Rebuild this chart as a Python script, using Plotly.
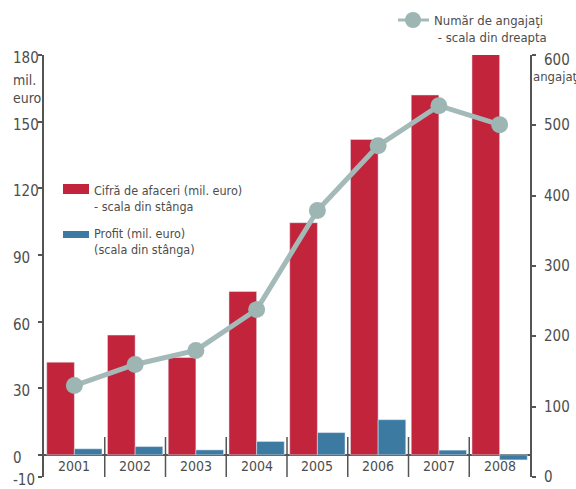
import plotly.graph_objects as go

years = ["2001", "2002", "2003", "2004", "2005", "2006", "2007", "2008"]
turnover = [41.7, 53.9, 43.8, 73.5, 104.5, 142.0, 162.0, 181.0]
profit = [2.7, 3.7, 2.2, 6.0, 10.0, 15.8, 2.1, -2.3]
employees = [130, 160, 180, 238, 379, 471, 528, 501]

left_ticks = [-10, 0, 30, 60, 90, 120, 150, 180]
right_ticks = [0, 100, 200, 300, 400, 500, 600]

RED = "#C2243B"
BLUE = "#3C7AA2"
LINEC = "#A3BAB8"
AXC = "#555555"
TXT = "#4d4d4d"
FONT = "DejaVu Sans Condensed, Liberation Sans Narrow, sans-serif"

W, H = 576, 489
L, R, T, B = 44, 46, 55, 12
PW, PH = W - L - R, H - T - B


def pxx(x):
    return (x - L) / PW


def pxy(y):
    return (H - B - y) / PH


fig = go.Figure()
fig.add_trace(go.Bar(x=years, y=turnover, marker_color=RED, name="Cifră de afaceri",
                     yaxis="y", showlegend=False))
fig.add_trace(go.Bar(x=years, y=profit, marker_color=BLUE, name="Profit",
                     yaxis="y", showlegend=False))
fig.add_trace(go.Scatter(x=years, y=employees, yaxis="y2", mode="lines+markers",
                         line=dict(color=LINEC, width=5),
                         marker=dict(color="#9DB5B3", size=17),
                         showlegend=False, name="Număr de angajaţi"))

annotations = []
# left tick labels (left aligned)
for v in left_ticks:
    annotations.append(dict(x=pxx(11), y=v, xref="paper", yref="y", text=str(v),
                            xanchor="left", yanchor="middle", yshift=-3, showarrow=False,
                            font=dict(family=FONT, size=15, color=TXT)))
# right tick labels
for v in right_ticks:
    annotations.append(dict(x=pxx(542), y=v, xref="paper", yref="y2", text=str(v),
                            xanchor="left", yanchor="middle",
                            yshift=(-5 if v == 600 else 0), showarrow=False,
                            font=dict(family=FONT, size=15, color=TXT)))
# year labels
for i, yr in enumerate(years):
    annotations.append(dict(x=i, y=-5, xref="x", yref="y", text=yr, xanchor="center",
                            yanchor="middle", showarrow=False, yshift=0,
                            font=dict(family=FONT, size=14, color=TXT)))
# unit labels
annotations.append(dict(x=pxx(11), y=pxy(89), xref="paper", yref="paper",
                        text="mil.<br>euro", xanchor="left", yanchor="middle", align="left",
                        showarrow=False, font=dict(family=FONT, size=14, color=TXT)))
annotations.append(dict(x=pxx(531), y=pxy(76), xref="paper", yref="paper",
                        text="angajaţi", xanchor="left", yanchor="middle", align="left",
                        showarrow=False, font=dict(family=FONT, size=13, color=TXT)))
# legend texts
annotations.append(dict(x=pxx(92), y=pxy(198), xref="paper", yref="paper",
                        text="Cifră de afaceri (mil. euro)<br>- scala din stânga",
                        xanchor="left", yanchor="middle", align="left", showarrow=False,
                        font=dict(family=FONT, size=12.5, color=TXT)))
annotations.append(dict(x=pxx(92), y=pxy(241), xref="paper", yref="paper",
                        text="Profit (mil. euro)<br>(scala din stânga)",
                        xanchor="left", yanchor="middle", align="left", showarrow=False,
                        font=dict(family=FONT, size=12.5, color=TXT)))
annotations.append(dict(x=pxx(432), y=pxy(29), xref="paper", yref="paper",
                        text="Număr de angajaţi<br> - scala din dreapta",
                        xanchor="left", yanchor="middle", align="left", showarrow=False,
                        font=dict(family=FONT, size=13, color=TXT)))

shapes = []
# category dividers
for i in range(len(years) - 1):
    shapes.append(dict(type="line", xref="x", yref="y", x0=i + 0.5, x1=i + 0.5,
                       y0=-10, y1=8, line=dict(color=AXC, width=1.5)))
# legend swatches
shapes.append(dict(type="rect", xref="paper", yref="paper", x0=pxx(63), x1=pxx(89),
                   y0=pxy(194), y1=pxy(184), fillcolor=RED, line=dict(width=0)))
shapes.append(dict(type="rect", xref="paper", yref="paper", x0=pxx(63), x1=pxx(89),
                   y0=pxy(238), y1=pxy(231), fillcolor=BLUE, line=dict(width=0)))
shapes.append(dict(type="line", xref="paper", yref="paper", x0=pxx(398), x1=pxx(429),
                   y0=pxy(20), y1=pxy(20), line=dict(color=LINEC, width=3)))
shapes.append(dict(type="circle", xref="paper", yref="paper", x0=pxx(405), x1=pxx(421),
                   y0=pxy(28), y1=pxy(12), fillcolor="#9DB5B3", line=dict(width=0)))

fig.update_layout(
    width=W, height=H,
    margin=dict(l=L, r=R, t=T, b=B, pad=0),
    paper_bgcolor="white", plot_bgcolor="white",
    barmode="group", bargap=0.09, bargroupgap=0,
    font=dict(family=FONT, color=TXT),
    xaxis=dict(type="category", range=[-0.5, 7.5], showticklabels=False, showgrid=False,
               showline=False, ticks="", zeroline=False),
    yaxis=dict(range=[-10, 180], tickvals=left_ticks, showticklabels=False, showgrid=False,
               showline=True, linecolor=AXC, linewidth=2, ticks="outside", ticklen=4,
               tickcolor=AXC, tickwidth=1.5, zeroline=True, zerolinecolor=AXC,
               zerolinewidth=2),
    yaxis2=dict(range=[0, 600], tickvals=right_ticks, overlaying="y", side="right",
                showticklabels=False, showgrid=False, showline=True, linecolor=AXC,
                linewidth=2, ticks="outside", ticklen=4, tickcolor=AXC, tickwidth=1.5,
                zeroline=False),
    annotations=annotations,
    shapes=shapes,
    showlegend=False,
)

fig.write_html("out.html", config={"displayModeBar": False},
               post_script="document.body.style.margin='0';document.body.style.overflow='hidden';")
